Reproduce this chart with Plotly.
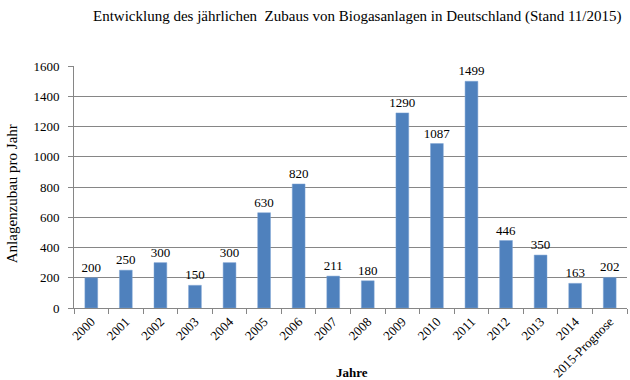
import plotly.graph_objects as go

jahre = ["2000", "2001", "2002", "2003", "2004", "2005", "2006", "2007", "2008",
         "2009", "2010", "2011", "2012", "2013", "2014", "2015-Prognose"]
zubau = [200, 250, 300, 150, 300, 630, 820, 211, 180, 1290, 1087, 1499, 446, 350, 163, 202]
y_ticks = [0, 200, 400, 600, 800, 1000, 1200, 1400, 1600]

serif = "Liberation Serif, Times New Roman, serif"

fig = go.Figure(go.Bar(
    x=jahre, y=zubau,
    marker=dict(color="#4F81BD", line=dict(color="#7FA4D4", width=0.5)),
    text=[str(v) for v in zubau], textposition="outside", cliponaxis=False,
    textfont=dict(family=serif, size=13, color="#000000"),
    hoverinfo="skip",
))

fig.update_layout(
    width=630, height=380,
    margin=dict(l=74, r=3, t=66, b=72),
    paper_bgcolor="white", plot_bgcolor="white",
    bargap=0.63,
    showlegend=False,
    uniformtext=dict(minsize=13, mode="show"),
    font=dict(family=serif, color="#000000"),
    annotations=[
        dict(text="Entwicklung des jährlichen  Zubaus von Biogasanlagen in Deutschland (Stand 11/2015)",
             xref="paper", yref="paper", x=0.512, y=1.0, yshift=50, xanchor="center", yanchor="middle",
             showarrow=False, font=dict(family=serif, size=15, color="#000000")),
        dict(text="Anlagenzubau pro Jahr", textangle=-90,
             xref="paper", yref="paper", x=0, xshift=-62, y=0.47, xanchor="center", yanchor="middle",
             showarrow=False, font=dict(family=serif, size=15, color="#000000")),
        dict(text="<b>Jahre</b>",
             xref="paper", yref="paper", x=0.503, y=0, yshift=-64, xanchor="center", yanchor="middle",
             showarrow=False, font=dict(family=serif, size=13, color="#000000")),
    ],
)

fig.update_xaxes(
    type="category", tickson="boundaries", tickangle=-45, automargin=False,
    ticks="outside", ticklen=5, tickcolor="#868686",
    showline=True, linecolor="#868686", linewidth=1,
    showgrid=False,
    tickfont=dict(family=serif, size=13, color="#000000"),
)
fig.update_yaxes(
    range=[0, 1600], tickvals=y_ticks, automargin=False,
    ticks="outside", ticklen=5, tickcolor="#868686", ticklabelstandoff=6,
    showline=True, linecolor="#868686", linewidth=1,
    showgrid=True, gridcolor="#868686", gridwidth=1,
    zeroline=False,
    tickfont=dict(family=serif, size=13, color="#000000"),
)

fig.write_html("out.html", config={"displayModeBar": False},
               post_script="document.body.style.margin='0';document.body.style.overflow='hidden';")
